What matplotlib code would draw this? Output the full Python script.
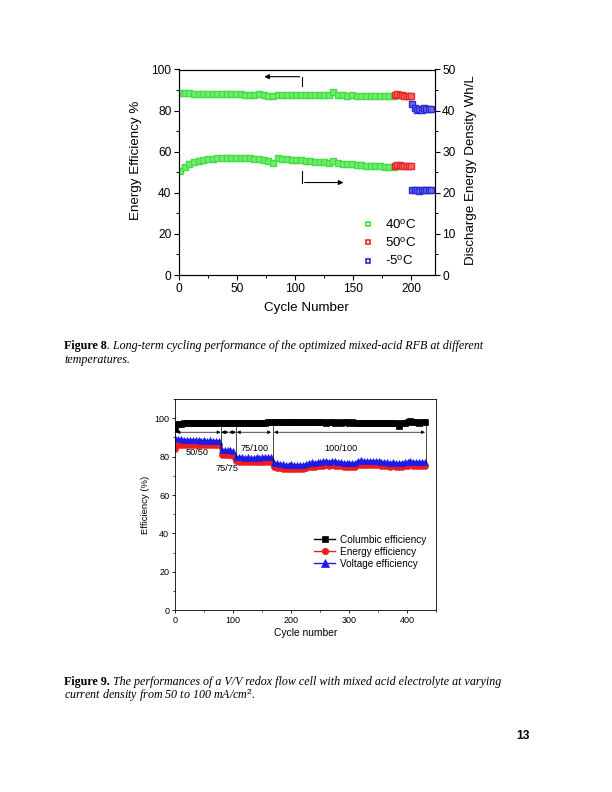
import numpy as np
import matplotlib
matplotlib.use('Agg')
import matplotlib.pyplot as plt
from matplotlib.ticker import MultipleLocator

plt.rcParams['font.family'] = ['Liberation Sans', 'DejaVu Sans']
plt.rcParams['mathtext.fontset'] = 'custom'
plt.rcParams['mathtext.rm'] = 'Liberation Sans'
plt.rcParams['mathtext.it'] = 'Liberation Serif:italic'

# ---- Figure 8 data (cycle number, energy efficiency %, discharge energy density Wh/L)
cyc_40 = np.arange(1, 186, 4)
cyc_50 = np.arange(186, 201, 2)
cyc_m5 = np.arange(201, 218, 2)

ee_40 = [88.6, 88.5, 88.4, 88.3, 88.3, 88.2, 88.2, 88.1, 88.1, 88.0,
         88.0, 87.9, 87.9, 87.9, 87.8, 87.8, 87.7, 87.9, 87.5, 87.2,
         86.9, 87.5, 87.6, 87.8, 87.6, 87.5, 87.6, 87.5, 87.4, 87.5,
         87.6, 87.4, 87.5, 89.2, 87.6, 87.4, 87.3, 87.4, 87.3, 87.2,
         87.3, 87.2, 87.1, 87.2, 87.1, 87.0, 87.3]
ed_40 = [25.3, 26.3, 27.0, 27.5, 27.8, 28.0, 28.2, 28.3, 28.4, 28.5,
         28.5, 28.5, 28.5, 28.5, 28.5, 28.4, 28.3, 28.2, 28.0, 27.8,
         27.3, 28.4, 28.3, 28.2, 28.1, 28.0, 27.9, 27.8, 27.7, 27.6,
         27.5, 27.4, 27.3, 27.7, 27.2, 27.1, 27.0, 26.9, 26.8, 26.7,
         26.6, 26.5, 26.4, 26.4, 26.3, 26.3, 26.3]
ee_50 = [87.8, 88.0, 87.6, 87.4, 87.3, 87.2, 87.3, 87.2]
ed_50 = [26.6, 26.8, 26.7, 26.6, 26.6, 26.5, 26.6, 26.6]
ee_m5 = [83.0, 81.5, 80.5, 81.0, 80.2, 81.3, 80.8, 80.6, 80.9]
ed_m5 = [20.6, 20.7, 20.6, 20.5, 20.6, 20.7, 20.6, 20.6, 20.7]

temp_labels = [r'40$^{\rm o}$C', r'50$^{\rm o}$C', r'-5$^{\rm o}$C']
temp_colors = ['#3ee03e', '#e82828', '#2a2ad8']
temp_faces = ['#74ea74', '#ee6a6a', '#6a6ae6']

# ---- Figure 9 data (every 5th cycle)
cyc_rfb = np.arange(1, 434, 5)
ce = [94.5, 96.8, 97.2, 97.3, 97.4, 97.4, 97.5, 97.4, 97.5, 97.5,
      97.4, 97.5, 97.5, 97.4, 97.5, 97.5,
      97.3, 97.4, 97.4, 97.5, 97.4,
      97.5, 97.6, 97.6, 97.5, 97.6, 97.6, 97.7, 97.6, 97.7, 97.7,
      97.7, 97.8, 97.8,
      98.0, 98.1, 98.1, 98.2, 98.1, 98.1, 98.2, 98.1, 98.2, 98.1,
      98.0, 97.9, 97.9, 97.8, 97.9, 97.8, 97.8, 97.8, 97.7, 97.8,
      97.8, 97.7, 97.8, 97.7, 97.8, 97.8, 97.7, 97.8, 97.6, 97.7,
      97.6, 97.7, 97.6, 97.7, 97.6, 97.7, 97.6, 97.7, 97.6, 97.7,
      97.6, 97.7, 97.6, 96.0, 97.5, 97.7, 97.8, 98.3, 97.9, 97.8,
      97.7, 97.8, 97.8]
ee = [84.0, 86.0, 86.3, 86.2, 86.1, 86.2, 86.0, 86.1, 86.0, 85.9,
      86.0, 85.9, 86.0, 85.9, 85.8, 85.9,
      80.6, 80.8, 80.7, 80.6, 80.5,
      77.5, 77.3, 77.2, 77.1, 77.2, 77.0, 77.1, 77.2, 77.1, 77.3,
      77.4, 77.3, 77.2,
      74.6, 74.3, 74.2, 73.8, 73.6, 73.7, 73.8, 73.6, 73.5, 73.7,
      73.6, 74.0, 74.6, 74.8, 74.7, 74.9, 75.2, 75.3, 75.4, 75.2,
      75.5, 75.3, 75.1, 75.0, 74.6, 74.5, 74.4, 74.5, 74.6, 75.8,
      75.9, 75.7, 75.8, 75.6, 75.7, 75.5, 75.4, 75.3, 75.0, 74.9,
      74.8, 74.9, 74.6, 74.5, 74.8, 75.0, 75.2, 75.4, 75.1, 75.0,
      75.2, 75.0, 75.1]
ve = [89.5, 89.2, 89.0, 88.8, 88.6, 88.6, 88.5, 88.5, 88.4, 88.3,
      88.4, 88.3, 88.4, 88.3, 88.2, 88.3,
      83.4, 83.5, 83.3, 83.2, 83.1,
      79.9, 79.7, 79.6, 79.5, 79.6, 79.4, 79.5, 79.6, 79.5, 79.7,
      79.8, 79.7, 79.6,
      76.8, 76.5, 76.4, 76.0, 75.8, 75.9, 76.0, 75.8, 75.7, 75.9,
      75.8, 76.2, 76.8, 77.0, 76.9, 77.1, 77.4, 77.5, 77.6, 77.4,
      77.7, 77.5, 77.3, 77.2, 76.8, 76.7, 76.6, 76.7, 76.8, 77.9,
      78.0, 77.8, 77.9, 77.7, 77.8, 77.6, 77.5, 77.4, 77.1, 77.0,
      76.9, 77.0, 76.7, 76.6, 76.9, 77.1, 77.4, 77.8, 77.2, 77.1,
      77.3, 77.1, 77.2]

# current density regimes: (start, end) of the arrows, and labels
regimes = [(3, 79), (80, 93), (93, 106), (107, 166), (171, 431)]
regime_labels = ['50/50', '75/75', '75/100', '100/100']

W, H = 612, 792
fig = plt.figure(figsize=(W / 100, H / 100), dpi=100)
fig.patch.set_facecolor('white')


def px_axes(x0, y0, x1, y1):
    return fig.add_axes([x0 / W, 1 - y1 / H, (x1 - x0) / W, (y1 - y0) / H])


# ================= Figure 8 =================
ax1 = px_axes(179, 69.5, 434.5, 275)
ax2 = ax1.twinx()
sets = [(cyc_40, ee_40, ed_40), (cyc_50, ee_50, ed_50), (cyc_m5, ee_m5, ed_m5)]
for (c, e, d), col, fc in zip(sets, temp_colors, temp_faces):
    ax1.plot(c, e, ls='none', marker='s', ms=3.8, mec=col, mfc=fc, mew=1.0)
    ax2.plot(c, d, ls='none', marker='s', ms=3.8, mec=col, mfc=fc, mew=1.0)

ax1.set_xlim(0, 220)
ax1.set_ylim(0, 100)
ax2.set_ylim(0, 50)
ax1.xaxis.set_major_locator(MultipleLocator(50))
ax1.xaxis.set_minor_locator(MultipleLocator(25))
ax1.yaxis.set_major_locator(MultipleLocator(20))
ax1.yaxis.set_minor_locator(MultipleLocator(10))
ax2.yaxis.set_major_locator(MultipleLocator(10))
ax2.yaxis.set_minor_locator(MultipleLocator(5))
for a in (ax1, ax2):
    a.tick_params(which='major', direction='out', length=3.5, width=0.8, labelsize=8.6, pad=2)
    a.tick_params(which='minor', direction='out', length=2, width=0.7)
    for s in a.spines.values():
        s.set_linewidth(0.8)
ax1.set_xlabel('Cycle Number', fontsize=9.6, labelpad=5)
ax1.set_ylabel('Energy Efficiency %', fontsize=9.6)
ax1.yaxis.set_label_coords(-0.146, 0.556)
ax2.set_ylabel('Discharge Energy Density Wh/L', fontsize=9.6, rotation=90)
ax2.yaxis.set_label_coords(1.119, 0.511)

# L-shaped pointer arrows
ax1.plot([106, 106], [92, 96.5], color='k', lw=0.8)
ax1.annotate('', xy=(71, 96.5), xytext=(106.3, 96.5),
             arrowprops=dict(arrowstyle='-|>', lw=0.8, color='k', mutation_scale=7))
ax1.plot([106, 106], [50.5, 45], color='k', lw=0.8)
ax1.annotate('', xy=(144, 45), xytext=(105.7, 45),
             arrowprops=dict(arrowstyle='-|>', lw=0.8, color='k', mutation_scale=7))

handles = [plt.Line2D([], [], ls='none', marker='s', ms=3.4, mec=col, mfc='#f4f4f4', mew=1.2)
           for col in temp_colors]
ax2.legend(handles, temp_labels, loc='center left', bbox_to_anchor=(0.714, 0.154),
           frameon=False, fontsize=9.6, handlelength=1.0, handletextpad=0.8,
           labelspacing=0.38, borderpad=0, borderaxespad=0, numpoints=1)

# ================= Figure 9 =================
ax3 = px_axes(174.7, 399, 436, 610.3)
ax3.plot(cyc_rfb, ce, color='k', marker='s', ms=4.2, lw=1.0, mew=0.5, label='Columbic efficiency')
ax3.plot(cyc_rfb, ee, color='#ee1c1c', marker='o', ms=4.2, lw=1.0, mew=0.5, label='Energy efficiency')
ax3.plot(cyc_rfb, ve, color='#1c1ce6', marker='^', ms=4.6, lw=1.0, mew=0.5, label='Voltage efficiency')
ax3.set_xlim(0, 450)
ax3.set_ylim(0, 110)
ax3.xaxis.set_major_locator(MultipleLocator(100))
ax3.xaxis.set_minor_locator(MultipleLocator(50))
ax3.yaxis.set_major_locator(MultipleLocator(20))
ax3.yaxis.set_minor_locator(MultipleLocator(10))
ax3.tick_params(which='major', direction='out', length=2.5, width=0.6, labelsize=6.5, pad=1.5)
ax3.tick_params(which='minor', direction='out', length=1.5, width=0.5)
for s in ax3.spines.values():
    s.set_linewidth(0.6)
ax3.set_xlabel('Cycle number', fontsize=7.4, labelpad=2.5)
ax3.set_ylabel('Efficiency (%)', fontsize=6.8, labelpad=3)

arrow_y = 92.7
for x0, x1 in regimes:
    ax3.annotate('', xy=(x1, arrow_y), xytext=(x0, arrow_y),
                 arrowprops=dict(arrowstyle='<|-|>', lw=0.5, color='k',
                                 mutation_scale=5, shrinkA=0, shrinkB=0))
for xv, y0, y1 in [(79, 96.3, 84.2), (106, 96.3, 80.0), (169, 99.1, 77.4), (432, 99.1, 77.0)]:
    ax3.plot([xv, xv], [y0, y1], color='k', lw=0.5)
ax3.text(38, 82.3, regime_labels[0], fontsize=6.6, ha='center', va='center')
ax3.text(90, 74.0, regime_labels[1], fontsize=6.6, ha='center', va='center')
ax3.text(137, 84.4, regime_labels[2], fontsize=6.6, ha='center', va='center')
ax3.text(287, 84.4, regime_labels[3], fontsize=6.6, ha='center', va='center')

ax3.legend(loc='center left', bbox_to_anchor=(0.534, 0.276), frameon=False, fontsize=7.2,
           handlelength=2.1, handletextpad=0.5, labelspacing=0.2, borderpad=0,
           borderaxespad=0, markerscale=1.1)

# ================= captions and page number =================
serif = ['Liberation Serif', 'DejaVu Serif']
cap_fs = 8.64
left = 64


def caption(y_px, bold, rest1, rest2):
    t = fig.text(left / W, 1 - y_px / H, bold, family=serif, fontsize=cap_fs,
                 fontweight='bold', va='baseline')
    fig.canvas.draw()
    bb = t.get_window_extent()
    fig.text(bb.x1 / W, 1 - y_px / H, rest1, family=serif, fontsize=cap_fs,
             style='italic', va='baseline')
    fig.text(left / W, 1 - (y_px + 14) / H, rest2, family=serif, fontsize=cap_fs,
             style='italic', va='baseline')


caption(349, 'Figure 8', '. Long-term cycling performance of the optimized mixed-acid RFB at different',
        'temperatures.')
caption(685, 'Figure 9.', ' The performances of a V/V redox flow cell with mixed acid electrolyte at varying',
        'current density from 50 to 100 mA/cm$^{2}$.')
fig.text(530 / W, 1 - 739 / H, '13', fontsize=8.64, fontweight='bold', ha='right', va='baseline')

fig.savefig('out.png', dpi=100)
